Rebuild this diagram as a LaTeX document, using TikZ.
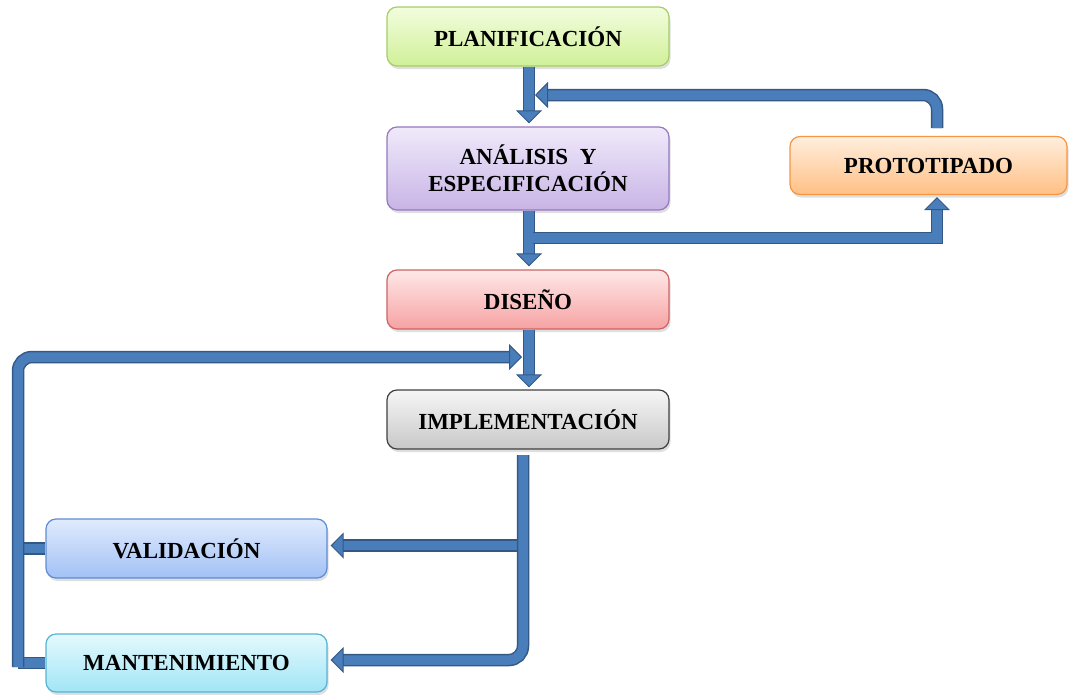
\documentclass[tikz,border=0pt]{standalone}
\usepackage{fontspec}
\setmainfont{Liberation Serif}
\usetikzlibrary{arrows.meta,shadows}
\definecolor{pipefill}{RGB}{74,126,187}
\definecolor{pipedark}{RGB}{52,88,134}
\definecolor{plantop}{RGB}{242,253,222}
\definecolor{planbot}{RGB}{208,240,152}
\definecolor{planline}{RGB}{165,205,105}
\definecolor{analtop}{RGB}{240,234,250}
\definecolor{analbot}{RGB}{200,180,230}
\definecolor{analline}{RGB}{150,120,190}
\definecolor{prototop}{RGB}{255,238,222}
\definecolor{protobot}{RGB}{255,192,132}
\definecolor{protoline}{RGB}{245,150,70}
\definecolor{distop}{RGB}{255,232,232}
\definecolor{disbot}{RGB}{246,162,162}
\definecolor{disline}{RGB}{205,100,100}
\definecolor{impltop}{RGB}{246,246,246}
\definecolor{implbot}{RGB}{200,200,200}
\definecolor{implline}{RGB}{64,64,64}
\definecolor{valtop}{RGB}{224,235,253}
\definecolor{valbot}{RGB}{162,193,246}
\definecolor{valline}{RGB}{95,140,210}
\definecolor{manttop}{RGB}{228,249,254}
\definecolor{mantbot}{RGB}{162,229,246}
\definecolor{mantline}{RGB}{85,180,210}
\begin{document}
\begin{tikzpicture}[x=1pt,y=-1pt,
  box/.style={rounded corners=10pt, line width=1.2pt, minimum width=282pt,
    minimum height=59pt, inner sep=2pt, align=center,
    font=\fontsize{23}{27}\selectfont\bfseries,
    drop shadow={opacity=0.25,shadow xshift=1.5pt,shadow yshift=-3pt}},
  pipe/.style={preaction={draw=pipedark,line width=12.5pt,arrows=-},
    draw=pipefill, line width=9.5pt},
  pipearrow/.style={preaction={draw=pipedark,line width=12.5pt,arrows=-,shorten >=11pt},
    draw=pipefill, line width=9.5pt,
    -{Triangle[length=13pt,width=26pt,fill=pipefill,color=pipedark,line width=1pt]}},
]
\useasboundingbox (0,0) rectangle (1069,694);

\node[box, top color=plantop, bottom color=planbot, draw=planline] (plan) at (528,36.5) {PLANIFICACIÓN};
\node[box, minimum height=83pt, top color=analtop, bottom color=analbot, draw=analline] (anal) at (528,168.5) {ANÁLISIS\ \ Y\\ESPECIFICACIÓN};
\node[box, minimum width=277pt, minimum height=58pt, top color=prototop, bottom color=protobot, draw=protoline] (proto) at (928.5,165.5) {PROTOTIPADO};
\node[box, top color=distop, bottom color=disbot, draw=disline] (dis) at (528,299.5) {DISEÑO};
\node[box, top color=impltop, bottom color=implbot, draw=implline] (impl) at (528,419.5) {IMPLEMENTACIÓN};
\node[box, minimum width=281pt, top color=valtop, bottom color=valbot, draw=valline] (val) at (186.5,548.5) {VALIDACIÓN};
\node[box, minimum width=281pt, minimum height=58pt, top color=manttop, bottom color=mantbot, draw=mantline] (mant) at (186.5,663) {MANTENIMIENTO};

\coordinate (j1) at (535,95);
\coordinate (r0) at (937,128);
\coordinate (j2) at (533,238);
\coordinate (lx) at (18,0);
\coordinate (lb) at (18,667);
\coordinate (j3) at (522,357);
\coordinate (j4) at (523,455);
\coordinate (j5) at (523,545.5);

\draw[pipearrow, shorten >=3pt] ([xshift=1pt]plan.south) -- ([xshift=1pt]anal.north);
\draw[pipearrow, rounded corners=14pt] (r0) |- (j1);
\draw[pipearrow, shorten >=3pt] ([xshift=1pt]anal.south) -- ([xshift=1pt]dis.north);
\draw[pipearrow, shorten >=2pt] (j2) -| ([xshift=8.5pt]proto.south);
\draw[pipearrow, shorten >=2pt] ([xshift=1pt]dis.south) -- ([xshift=1pt]impl.north);
\draw[pipe] (val.west) -- (val.west -| lx);
\draw[pipe] (mant.west) -- (mant.west -| lx);
\draw[pipearrow, rounded corners=14pt] (lb) |- (j3);
\draw[pipearrow, shorten >=3pt] (j5) -- ([yshift=3pt]val.east);
\draw[pipearrow, rounded corners=14pt, shorten >=3pt] (j4) |- ([yshift=3pt]mant.east);
\end{tikzpicture}
\end{document}
